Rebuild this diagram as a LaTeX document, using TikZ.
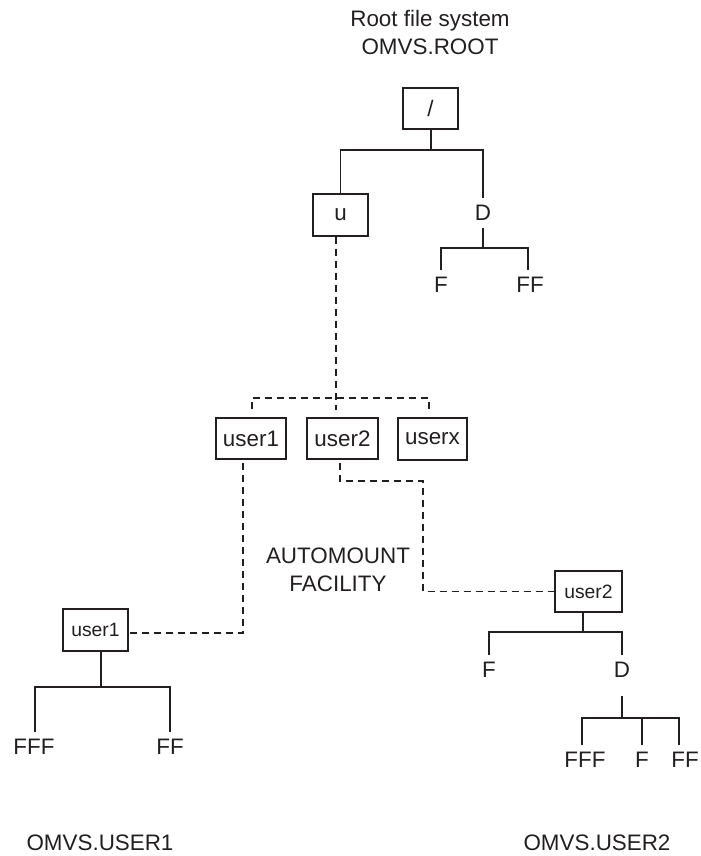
\documentclass[tikz,border=0pt]{standalone}
\usepackage{fontspec}
\setmainfont{Liberation Sans}
\definecolor{ink}{RGB}{35,31,32}
\begin{document}
\begin{tikzpicture}[x=0.75pt,y=-0.75pt,
  every node/.style={text=ink},
  big/.style={font=\fontsize{16.8pt}{21pt}\selectfont},
  small/.style={font=\fontsize{14.5pt}{18pt}\selectfont},
  fbox/.style={draw=ink,line width=1pt,inner sep=0pt,minimum height=31pt},
  lbl/.style={big,inner xsep=0pt,inner ysep=5pt},
  tree/.style={draw=ink,line width=1pt},
  mnt/.style={draw=ink,line width=1pt,dash pattern=on 5.5pt off 3.5pt}]
\useasboundingbox (0,0) rectangle (700,856);

% titles
\node[big,align=center] (title) at (430,32) {Root file system\\OMVS.ROOT};
\node[big,align=center] (auto) at (338,570) {AUTOMOUNT\\FACILITY};
\node[big] (fs1) at (100,843) {OMVS.USER1};
\node[big] (fs2) at (597,843) {OMVS.USER2};

% root file system
\node[fbox,big,minimum width=41.25pt,minimum height=30.75pt] (root) at (430.5,108.5) {/};
\node[fbox,big,minimum width=41.25pt,minimum height=31.5pt] (u) at (340.5,215) {u};
\node[lbl] (D1) at (483,213) {D};
\node[lbl] (F1) at (441,285) {F};
\node[lbl] (FF1) at (530,285) {FF};
\coordinate (j1) at (431,150);
\coordinate (j2) at (483,248);
\draw[tree] (root.south -| j1) -- (j1);
\draw[tree] (u.north) |- (j1) -| (D1.north);
\draw[tree] (D1.south) -- (j2);
\draw[tree] (F1.north) |- (j2) -| ([xshift=-1.5pt]FF1.north);

% mount points
\node[fbox,big,minimum width=52.5pt,minimum height=30.75pt] (user1) at (251,438.5) {user1};
\node[fbox,big,minimum width=53.25pt,minimum height=30.75pt] (user2) at (342.5,438.5) {user2};
\node[fbox,big,minimum width=51.75pt,minimum height=31.5pt] (userx) at (432.5,439) {userx};
\coordinate (ud) at (336,410);
\coordinate (hl) at (252,398);
\coordinate (hr) at (429,398);
\draw[mnt] (u.south -| ud) -- (ud);
\draw[mnt] (hl |- user1.north) ++(0,-8) |- (hr) -- ++(0,12);

% user1 file system
\node[fbox,small,minimum width=48.75pt,minimum height=31.5pt] (user1b) at (95.5,630) {user1};
\node[lbl] (FFF3) at (34,747) {FFF};
\node[lbl] (FF3) at (170,747) {FF};
\coordinate (j3) at (101,687);
\coordinate (m1) at (243,463);
\draw[mnt] (m1) |- ([yshift=-2.25pt]user1b.east);
\draw[tree] (user1b.south -| j3) -- (j3);
\draw[tree] ([xshift=0.75pt]FFF3.north) |- (j3) -| (FF3.north);

% user2 file system
\node[fbox,small,minimum width=50.25pt,minimum height=30.75pt] (user2b) at (588.5,591.5) {user2};
\node[lbl] (F4) at (489,670) {F};
\node[lbl] (D4) at (622,670) {D};
\node[lbl] (FFF5) at (585,760) {FFF};
\node[lbl] (F5) at (642,760) {F};
\node[lbl] (FF5) at (685,760) {FF};
\coordinate (m2) at (340,463);
\coordinate (c1) at (423,481);
\draw[mnt] (m2) |- (c1) |- (user2b.west);
\coordinate (j4) at (583,632);
\coordinate (j5) at (622,718);
\draw[tree] (user2b.south -| j4) -- (j4);
\draw[tree] (F4.north) |- (j4) -| (D4.north);
\draw[tree] ([yshift=-8.6pt]D4.south) -- (j5);
\draw[tree] ([xshift=-2.25pt]FFF5.north) |- (j5) -| ([xshift=-4.5pt]FF5.north);
\draw[tree] (F5.north) -- (F5.north |- j5);
\end{tikzpicture}
\end{document}
